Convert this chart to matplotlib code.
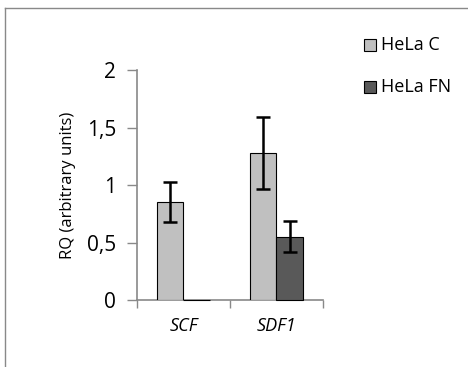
import numpy as np
import matplotlib
matplotlib.use("Agg")
from matplotlib import pyplot as plt
from matplotlib.lines import Line2D
from matplotlib.patches import Rectangle

plt.rcParams['font.family'] = ['Open Sans', 'DejaVu Sans']

categories = ["SCF", "SDF1"]
series = ["HeLa C", "HeLa FN"]
hela_c = [0.85, 1.28]
hela_c_err = [0.175, 0.31]
hela_fn = [0.0, 0.55]
hela_fn_err = [0.0, 0.135]
colors = ["#c0c0c0", "#595959"]
axis_gray = "#898989"

fig = plt.figure(figsize=(4.68, 3.67), dpi=100)
ax = fig.add_axes([0.2927, 0.1826, 0.3974, 0.6259])

x = np.arange(len(categories)) + 0.5
w = 0.285
ax.bar(x - w / 2, hela_c, w, color=colors[0], edgecolor="black", linewidth=0.8, zorder=3)
ax.bar(x + w / 2, hela_fn, w, color=colors[1], edgecolor="black", linewidth=0.8, zorder=3,
       clip_on=False)
ax.errorbar(x - w / 2, hela_c, yerr=hela_c_err, fmt="none", ecolor="black",
            elinewidth=1.8, capsize=5, capthick=1.8, zorder=4)
fn_idx = [i for i, v in enumerate(hela_fn_err) if v > 0]
ax.errorbar(x[fn_idx] + w / 2, np.array(hela_fn)[fn_idx], yerr=np.array(hela_fn_err)[fn_idx],
            fmt="none", ecolor="black", elinewidth=1.8, capsize=5, capthick=1.8, zorder=4)

ax.set_xlim(0, 2)
ax.set_ylim(0, 2)
ax.set_yticks([0, 0.5, 1, 1.5, 2])
ax.set_yticklabels(["0", "0,5", "1", "1,5", "2"], fontsize=15)
ax.set_xticks([0, 1, 2])
ax.set_xticklabels([])
ax.set_xticks(x, minor=True)
ax.set_xticklabels(categories, minor=True, fontsize=13, style="italic")
ax.tick_params(axis="x", which="minor", length=0, pad=12)
ax.tick_params(axis="x", which="major", direction="out", length=6, color=axis_gray, width=1)
ax.tick_params(axis="y", direction="out", length=7, color=axis_gray, width=1, pad=8)

for s in ["top", "right"]:
    ax.spines[s].set_visible(False)
for s in ["left", "bottom"]:
    ax.spines[s].set_color(axis_gray)
    ax.spines[s].set_linewidth(1.2)

ax.set_ylabel("RQ (arbitrary units)", fontsize=12, labelpad=8)

# legend drawn as squares + text
for i, name in enumerate(series):
    yy = 1 - (45 + 42 * i) / 367
    fig.patches.append(Rectangle((364 / 468, yy - 6 / 367), 12 / 468, 12 / 367,
                                 transform=fig.transFigure, facecolor=colors[i],
                                 edgecolor="black", linewidth=0.8))
    fig.text(381 / 468, yy, name, fontsize=13, va="center", ha="left")

# outer frame
fig.lines.append(Line2D([5 / 468, 5 / 468], [0, 1 - 8 / 367], transform=fig.transFigure,
                        color=axis_gray, linewidth=1))
fig.lines.append(Line2D([5 / 468, 1], [1 - 8 / 367, 1 - 8 / 367], transform=fig.transFigure,
                        color=axis_gray, linewidth=1))

fig.savefig("out.png", dpi=100)
